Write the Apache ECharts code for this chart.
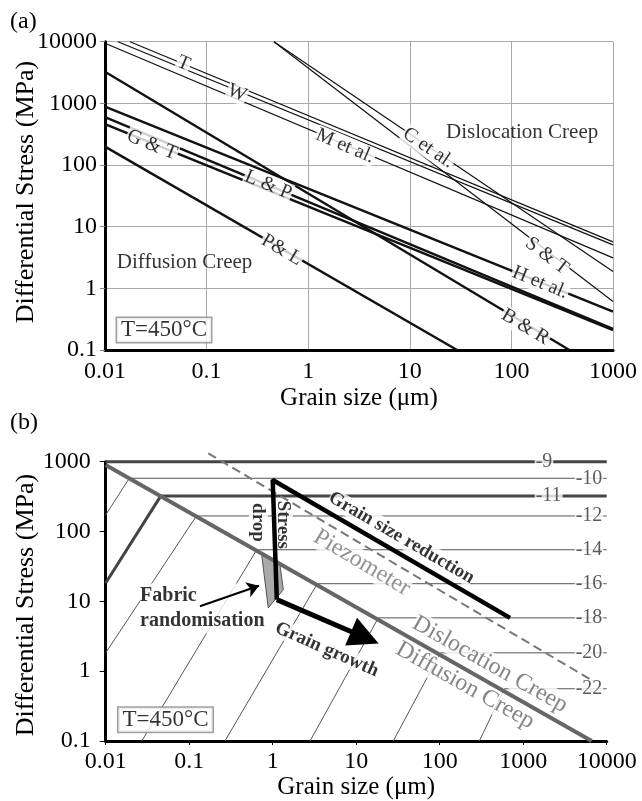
<!DOCTYPE html>
<html>
<head>
<meta charset="utf-8">
<script src="https://cdn.jsdelivr.net/npm/echarts@6/dist/echarts.min.js"></script>
<style>
html, body { margin: 0; padding: 0; background: #fff; }
#main { width: 642px; height: 801px; }
</style>
</head>
<body>
<div id="main"></div>
<script>
// tick labels
var tickAx = ['0.01', '0.1', '1', '10', '100', '1000'];
var tickAy = ['0.1', '1', '10', '100', '1000', '10000'];
var tickBx = ['0.01', '0.1', '1', '10', '100', '1000', '10000'];
var tickBy = ['0.1', '1', '10', '100', '1000'];

// (a) piezometers: [grain size, stress] end points
var lawT  = [[0.0176, 10000], [1000, 5.67]];
var lawW  = [[0.0134, 10000], [1000, 5.07]];
var lawM  = [[0.01, 9420], [1000, 3.12]];
var lawC  = [[0.46, 10000], [1000, 1.87]];
var lawST = [[0.46, 10000], [1000, 0.61]];
var lawH  = [[0.01, 885], [1000, 0.42]];
var lawLP = [[0.01, 596], [1000, 0.22]];
var lawGT = [[0.01, 459], [1000, 0.21]];
var lawBR = [[0.01, 3265], [372, 0.1]];
var lawPL = [[0.01, 199], [29.2, 0.1]];

var notesA = [
  ['T', 0.0593, 4430], ['W', 0.1995, 1472], ['M et al.', 2.31, 203],
  ['C et al.', 15.2, 189], ['S & T', 224, 3.37], ['H et al.', 192, 1.24],
  ['B & R', 137, 0.236], ['G & T', 0.029, 211], ['L & P', 0.403, 47.4],
  ['P& L', 0.55, 4.19]
];
var anglesA = [-22.5, -22.5, -23, -34, -37.4, -22, -31, -22, -22.6, -30];
var fieldsA = [['Dislocation Creep', 127.6, 343], ['Diffusion Creep', 0.0607, 2.62]];
var tempA = ['T=450°C', 0.0381, 0.211];

// (b) deformation mechanism map
var boundary = [[0.01, 897], [6610, 0.1]];
var piezometer = [[0.169, 1318], [6920, 0.72]];
var levels = ['-9', '-10', '-11', '-12', '-14', '-16', '-18', '-20', '-22'];
var isoLines = [
  [[0.01, 1000], [10000, 1000]],
  [[0.01, 173], [0.0192, 579], [10000, 579]],
  [[0.01, 18.3], [0.0457, 324], [10000, 324]],
  [[0.01, 1.83], [0.122, 167], [10000, 167]],
  [[0.027, 0.1], [0.644, 54.8], [10000, 54.8]],
  [[0.268, 0.1], [3.42, 17.9], [10000, 17.9]],
  [[2.8, 0.1], [18.4, 5.8], [10000, 5.8]],
  [[27.8, 0.1], [102, 1.83], [10000, 1.83]],
  [[298, 0.1], [596, 0.56], [10000, 0.56]]
];
var levelAt = [[1774, 1000], [6140, 579], [2018, 324], [6140, 167], [6140, 54.8],
  [6140, 17.9], [6140, 5.8], [6140, 1.83], [6140, 0.56]];
var gsrPath = [[695, 5.8], [1.0, 548], [1.12, 10.6]];
var growthArrow = [[1.12, 10.6], [12.7, 3.03]];
var fabricArrow = [[0.1346, 8.5], [0.685, 16.7]];
var fabricShape = [[0.738, 46.4], [1.22, 33.4], [1.34, 14.7], [0.885, 8.05]];

var notesB = [
  ['Piezometer', 11.7, 35.7], ['Grain size reduction', 34.8, 81.3],
  ['Stress', 1.34, 124.7], ['drop', 0.673, 135], ['Grain growth', 4.44, 2.04],
  ['Dislocation Creep', 400, 1.25], ['Diffusion Creep', 201, 0.625]
];
var anglesB = [-30.7, -30.2, -90, -90, -23.8, -29.4, -29.4];
var fabricNote = ['Fabric\nrandomisation', 0.0258, 7.87];
var tempB = ['T=450°C', 0.052, 0.201];

var FONT = 'Liberation Serif';
var chart = echarts.init(document.getElementById('main'));

function logAxis(grid, min, max, ticks, isX, opts) {
  var a = {
    type: 'log', gridIndex: grid, min: min, max: max, logBase: 10,
    splitNumber: ticks.length - 1,
    axisLine: { onZero: false, lineStyle: { color: '#000', width: 3 } },
    axisTick: { show: false },
    axisLabel: {
      fontFamily: FONT, fontSize: 24, color: '#000',
      formatter: function (v) {
        return ticks[Math.round(Math.log10(v) - Math.log10(min))];
      }
    },
    splitLine: { show: false },
    nameLocation: 'middle',
    nameTextStyle: { fontFamily: FONT, fontSize: 25, color: '#000' },
    name: isX ? 'Grain size (μm)' : ''
  };
  return echarts.util.merge(a, opts, true);
}

function line(grid, pts, color, width, extra) {
  return echarts.util.merge({
    type: 'line', xAxisIndex: grid, yAxisIndex: grid, data: pts,
    symbol: 'none', silent: true, z: 2,
    lineStyle: { color: color, width: width }
  }, extra || {}, true);
}

function notes(grid, list, angles, style, z) {
  return {
    type: 'scatter', xAxisIndex: grid, yAxisIndex: grid, symbolSize: 0,
    silent: true, z: z,
    label: echarts.util.merge({
      show: true, position: 'inside', fontFamily: FONT, color: '#000'
    }, style, true),
    data: list.map(function (n, i) {
      return { value: [n[1], n[2]], label: { formatter: n[0], rotate: angles ? angles[i] : 0 } };
    })
  };
}

var series = [];
[lawT, lawW, lawM, lawC, lawST].forEach(function (p) { series.push(line(0, p, '#111', 1.2)); });
[lawH, lawLP, lawGT, lawBR, lawPL].forEach(function (p) { series.push(line(0, p, '#111', 2.4)); });
series.push(notes(0, notesA, anglesA, { fontSize: 20, backgroundColor: '#fff', padding: [0, 1] }, 10));
series.push(notes(0, fieldsA, null, { fontSize: 21 }, 10));
series.push(notes(0, [tempA], null, {
  fontSize: 23, backgroundColor: '#fff', borderColor: '#888', borderWidth: 1.5, padding: [1, 4, 0, 4]
}, 10));

isoLines.forEach(function (p, i) {
  var thick = levels[i] === '-9' || levels[i] === '-11';
  series.push(line(1, p, thick ? '#444' : '#555', thick ? 3 : 1, { clip: false }));
});
series.push(notes(1, levelAt.map(function (p, i) { return [levels[i], p[0], p[1]]; }), null,
  { fontSize: 20, color: '#333', backgroundColor: '#fff', padding: [0, 1] }, 5));
series.push(notes(1, notesB.slice(0, 1), anglesB.slice(0, 1),
  { fontSize: 24, color: '#777', backgroundColor: '#fff', padding: 0 }, 5));
series.push(notes(1, notesB.slice(1, 5), anglesB.slice(1, 5),
  { fontSize: 19, fontWeight: 'bold', backgroundColor: '#fff', padding: 0 }, 5));
series.push(notes(1, notesB.slice(5), anglesB.slice(5),
  { fontSize: 24, color: '#666', backgroundColor: '#fff', padding: 0 }, 5));
series.push(notes(1, [fabricNote], null,
  { fontSize: 20, fontWeight: 'bold', position: 'right', distance: 0, align: 'left', lineHeight: 25, backgroundColor: '#fff' }, 5));
series.push(notes(1, [tempB], null, {
  fontSize: 23, backgroundColor: '#fff', borderColor: '#888', borderWidth: 1.5, padding: [1, 4, 0, 4]
}, 6));

series.push(line(1, boundary, '#666', 4, { z: 8 }));
series.push(line(1, piezometer, '#777', 2, { z: 8, clip: false, lineStyle: { type: [9, 5] } }));
series.push({
  type: 'custom', xAxisIndex: 1, yAxisIndex: 1, silent: true, z: 8,
  data: [fabricShape[0]],
  renderItem: function (params, api) {
    return {
      type: 'polygon',
      shape: { points: fabricShape.map(function (p) { return api.coord(p); }) },
      style: { fill: '#aaa', stroke: '#555', lineWidth: 1 }
    };
  }
});
series.push(line(1, gsrPath, '#000', 4.5, { z: 9 }));
series.push({
  type: 'lines', coordinateSystem: 'cartesian2d', xAxisIndex: 1, yAxisIndex: 1,
  silent: true, z: 9, symbol: ['none', 'triangle'], symbolSize: [0, 30],
  lineStyle: { color: '#000', width: 5, opacity: 1 },
  data: [{ coords: growthArrow }]
});
series.push({
  type: 'lines', coordinateSystem: 'cartesian2d', xAxisIndex: 1, yAxisIndex: 1,
  silent: true, z: 9, symbol: ['none', 'arrow'], symbolSize: [0, 12],
  lineStyle: { color: '#000', width: 2, opacity: 1 },
  data: [{ coords: fabricArrow }]
});

var yName = 'Differential Stress (MPa)';
var nameFont = '26px "Liberation Serif"';

chart.setOption({
  animation: false,
  backgroundColor: '#fff',
  grid: [
    { left: 105, right: 29, top: 41.7, bottom: 451 },
    { left: 105.7, right: 35.3, top: 461.7, bottom: 59.3 }
  ],
  xAxis: [
    logAxis(0, 0.01, 1000, tickAx, true, {
      axisLabel: { margin: 10 }, nameGap: 36,
      splitLine: { show: true, lineStyle: { color: '#aaa', width: 1 } }
    }),
    logAxis(1, 0.01, 10000, tickBx, true, {
      axisLabel: { margin: 9 }, nameGap: 34,
      axisTick: { show: true, length: 4, lineStyle: { color: '#000', width: 1 } }
    })
  ],
  yAxis: [
    logAxis(0, 0.1, 10000, tickAy, false, {
      axisLabel: { margin: 8 },
      axisTick: { show: true, length: 5, lineStyle: { color: '#888', width: 1 } },
      splitLine: { show: true, lineStyle: { color: '#aaa', width: 1 } }
    }),
    logAxis(1, 0.1, 1000, tickBy, false, {
      axisLabel: { margin: 15 },
      axisTick: { show: true, length: 6, lineStyle: { color: '#000', width: 1 } }
    })
  ],
  graphic: [
    { type: 'text', left: 10, top: 10, style: { text: '(a)', font: '24px "Liberation Serif"', fill: '#000' } },
    { type: 'text', left: 10, top: 411, style: { text: '(b)', font: '24px "Liberation Serif"', fill: '#000' } },
    { type: 'text', x: 26, y: 192, rotation: Math.PI / 2,
      style: { text: yName, font: nameFont, fill: '#000', align: 'center', verticalAlign: 'middle' } },
    { type: 'text', x: 26, y: 605, rotation: Math.PI / 2,
      style: { text: yName, font: nameFont, fill: '#000', align: 'center', verticalAlign: 'middle' } }
  ],
  series: series
});
</script>
</body>
</html>
